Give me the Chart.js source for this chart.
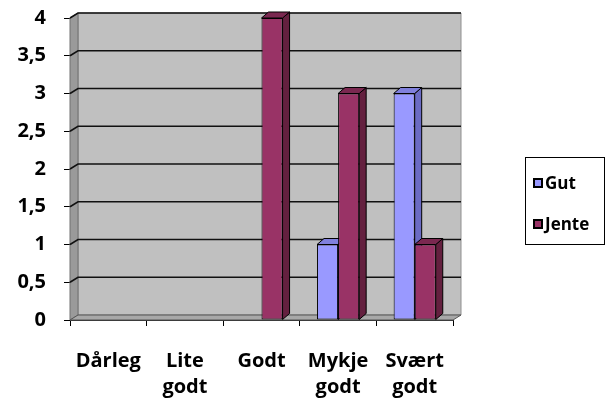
<!DOCTYPE html>
<html>
<head>
<meta charset="utf-8">
<script src="https://cdn.jsdelivr.net/npm/chart.js@4"></script>
<style>
    html, body { margin: 0; padding: 0; background: #fff; }
    #wrap { position: relative; width: 608px; height: 404px; }
    #legend {
        position: absolute; left: 525px; top: 157px; width: 80px; height: 88px;
        border: 1px solid #000; box-sizing: border-box;
        font: bold 17px "Open Sans", sans-serif; color: #000;
    }
    .item { position: absolute; left: 7px; display: flex; align-items: center; line-height: 20px; }
    .mark { width: 6px; height: 6px; border: 2px solid #000; margin-right: 2px; }
</style>
</head>
<body>
<div id="wrap">
    <canvas id="chart" width="608" height="404"></canvas>
    <div id="legend"></div>
</div>
<script>
// Chart data
const categories = [['Dårleg'], ['Lite', 'godt'], ['Godt'], ['Mykje', 'godt'], ['Svært', 'godt']];
const seriesNames = ['Gut', 'Jente'];
const gutValues = [0, 0, 0, 1, 3];
const jenteValues = [0, 0, 4, 3, 1];
const yTicks = [0, 0.5, 1, 1.5, 2, 2.5, 3, 3.5, 4];

const frontColors = ['#9999ff', '#993366'];
const sideColors = ['#6b6bc4', '#64203f'];
const topColors = ['#8080dd', '#7a2850'];

// 3D look: walls, grid and bar sides
const DX = 8, DY = 5, BDX = 7, BDY = 6;

function poly(ctx, pts, fill, stroke, lw) {
    ctx.beginPath();
    ctx.moveTo(pts[0][0], pts[0][1]);
    for (let i = 1; i < pts.length; i++) ctx.lineTo(pts[i][0], pts[i][1]);
    ctx.closePath();
    if (fill) { ctx.fillStyle = fill; ctx.fill(); }
    if (stroke) { ctx.strokeStyle = stroke; ctx.lineWidth = lw || 1; ctx.stroke(); }
}

const depthPlugin = {
    id: 'depth3d',
    beforeDatasetsDraw(chart) {
        const ctx = chart.ctx;
        const a = chart.chartArea;
        const y = chart.scales.y;
        ctx.save();
        // back wall
        poly(ctx, [[a.left + DX, a.top - DY], [a.right + DX, a.top - DY], [a.right + DX, a.bottom - DY], [a.left + DX, a.bottom - DY]], '#c0c0c0', '#909090', 1);
        // left wall
        poly(ctx, [[a.left, a.top], [a.left + DX, a.top - DY], [a.left + DX, a.bottom - DY], [a.left, a.bottom]], '#9a9a9a', '#707070', 1);
        // floor
        poly(ctx, [[a.left, a.bottom], [a.left + DX, a.bottom - DY], [a.right + DX, a.bottom - DY], [a.right, a.bottom]], '#a8a8a8', '#555', 1);

        // grid lines
        ctx.strokeStyle = '#111';
        ctx.lineWidth = 1.6;
        yTicks.forEach(v => {
            if (v === 0) return;
            const py = y.getPixelForValue(v);
            ctx.beginPath();
            ctx.moveTo(a.left, py);
            ctx.lineTo(a.left + DX, py - DY);
            ctx.lineTo(a.right + DX, py - DY);
            ctx.stroke();
        });

        // bar sides and tops
        chart.data.datasets.forEach((ds, i) => {
            chart.getDatasetMeta(i).data.forEach((bar, j) => {
                if (!ds.data[j]) return;
                const p = bar.getProps(['x', 'y', 'base', 'width'], true);
                const l = p.x - p.width / 2, r = p.x + p.width / 2;
                poly(ctx, [[r, p.y], [r + BDX, p.y - BDY], [r + BDX, p.base - BDY], [r, p.base]], sideColors[i], '#000', 1);
                poly(ctx, [[l, p.y], [l + BDX, p.y - BDY], [r + BDX, p.y - BDY], [r, p.y]], topColors[i], '#000', 1);
            });
        });
        ctx.restore();
    }
};

const xFont = { family: '"Open Sans", sans-serif', size: 20, weight: 'bold', lineHeight: 1.3 };
const yFont = { family: '"Open Sans", sans-serif', size: 20, weight: 'bold', lineHeight: 1.2 };

new Chart(document.getElementById('chart'), {
    type: 'bar',
    data: {
        labels: categories,
        datasets: [
            { label: seriesNames[0], data: gutValues, backgroundColor: frontColors[0] },
            { label: seriesNames[1], data: jenteValues, backgroundColor: frontColors[1] }
        ].map(ds => Object.assign(ds, {
            borderColor: '#000',
            borderWidth: c => (c.raw ? 1 : 0),
            borderSkipped: false,
            categoryPercentage: 0.55,
            barPercentage: 1
        }))
    },
    options: {
        responsive: false,
        animation: false,
        layout: { padding: { left: 0, right: 155, top: 18, bottom: 0 } },
        plugins: { legend: { display: false }, tooltip: { enabled: false } },
        scales: {
            x: {
                grid: { color: 'transparent', tickColor: '#000', tickLength: 6, offset: true },
                border: { display: true, color: '#222', width: 1 },
                ticks: { color: '#000', font: xFont, padding: 22, maxRotation: 0, autoSkip: false },
                afterFit: s => { s.height = 84; s.paddingLeft = 0; s.paddingRight = 0; }
            },
            y: {
                min: 0, max: 4,
                grid: { color: 'transparent', tickColor: '#000', tickLength: 6 },
                border: { display: true, color: '#222', width: 1 },
                afterBuildTicks: s => { s.ticks = yTicks.map(v => ({ value: v })); },
                ticks: {
                    color: '#000', font: yFont, padding: 18,
                    callback: v => String(v).replace('.', ',')
                },
                afterFit: s => { s.width = 70; s.paddingTop = 0; s.paddingBottom = 0; }
            }
        }
    },
    plugins: [depthPlugin]
});

// legend
const legend = document.getElementById('legend');
seriesNames.forEach((name, i) => {
    const item = document.createElement('div');
    item.className = 'item';
    item.style.top = (i === 0 ? 15 : 56) + 'px';
    item.innerHTML = '<span class="mark" style="background:' + frontColors[i] + '"></span>' + name;
    legend.appendChild(item);
});
</script>
</body>
</html>
